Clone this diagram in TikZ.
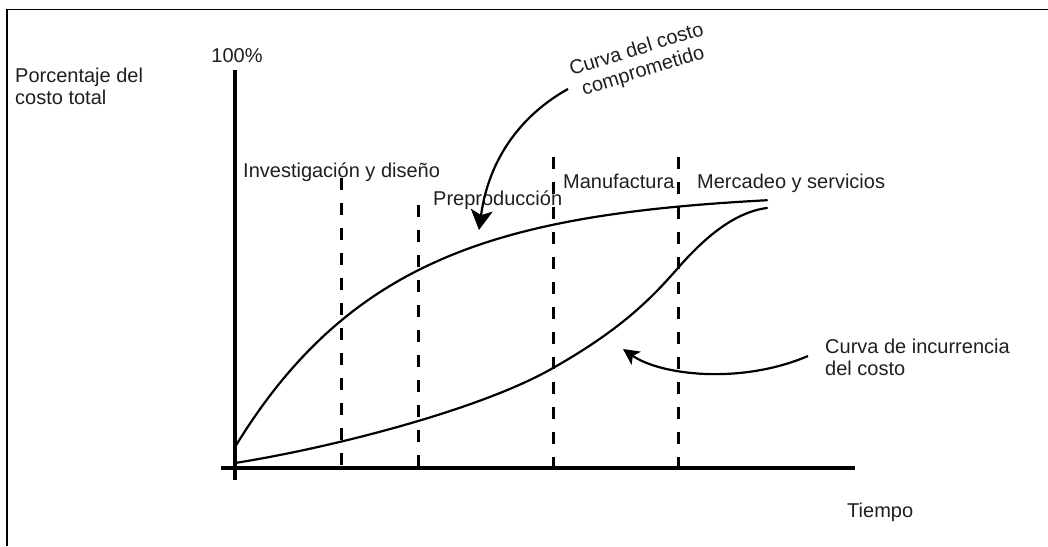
\documentclass[tikz,border=0pt]{standalone}
\usepackage{fontspec}
\setmainfont{Liberation Sans}
\usetikzlibrary{arrows.meta}
\begin{document}
\begin{tikzpicture}[x=1pt,y=-1pt,
  lbl/.style={inner sep=0pt, text=black!88, font=\fontsize{20pt}{22.5pt}\selectfont},
  axis/.style={line width=3.2pt},
  curve/.style={line width=2.2pt},
  phase/.style={line width=3pt, dash pattern=on 12pt off 13pt},
  frame/.style={line width=1.3pt},
  pointer/.style={line width=2.2pt},
  bighead/.style={-{Stealth[length=20pt,width=22pt,inset=5pt]}},
  smallhead/.style={-{Stealth[length=16pt,width=16pt,inset=4pt]}}]
\useasboundingbox (0,0) rectangle (1048,546);

% outer frame (top and left edges)
\draw[frame] (7,546) -- (7,9.3) -- (1048,9.3);

% axes
\coordinate (ytop) at (235,70);
\coordinate (ybot) at (235,480);
\coordinate (xleft) at (221,468);
\coordinate (xright) at (855,468);
\draw[axis] (ytop) -- (ybot);
\draw[axis] (xleft) -- (xright);

% phase boundaries
\coordinate (p1t) at (341,178); \coordinate (p1b) at (341,468);
\coordinate (p2t) at (418,205); \coordinate (p2b) at (418,468);
\coordinate (p3t) at (553,157); \coordinate (p3b) at (553,468);
\coordinate (p4t) at (678,157); \coordinate (p4b) at (678,468);
\draw[phase] (p1t) -- (p1b);
\draw[phase] (p2t) -- (p2b);
\draw[phase] (p3t) -- (p3b);
\draw[phase] (p4t) -- (p4b);

% committed cost curve: saturating growth
\draw[curve, line cap=round] plot[domain=235:767, samples=90, smooth]
  (\x, {447-255*(1-exp(-(\x-235)/155))});

% incurred cost curve: slow start, steep rise, levelling off
\draw[curve, line cap=round] (235,463) .. controls (330,448) and (480,410) .. (553,368)
  .. controls (620,330) and (650,300) .. (678,268)
  .. controls (705,237) and (735,212) .. (767,208);

% labels
\node[lbl, anchor=base] (pct) at (237,62) {100\%};
\node[lbl, anchor=north west, align=left] (ylab) at (15,67.5) {Porcentaje del\\costo total};
\node[lbl, anchor=base west] (tiempo) at (847,517) {Tiempo};
\node[lbl, anchor=base west] (ph1) at (243,177) {Investigación y diseño};
\node[lbl, anchor=base west] (ph2) at (433,205) {Preproducción};
\node[lbl, anchor=base west] (ph3) at (563,188) {Manufactura};
\node[lbl, anchor=base west] (ph4) at (697,188) {Mercadeo y servicios};
\node[lbl, align=center, rotate=17] (comlab) at (640,61) {Curva del costo\\comprometido};
\node[lbl, anchor=north west, align=left] (inclab) at (825,338.5) {Curva de incurrencia\\del costo};

% pointers from labels to curves
\coordinate (a1s) at (568,89);
\coordinate (a1e) at (479,230);
\draw[pointer, bighead] (a1s) .. controls (530,110) and (490,150) .. (a1e);
\coordinate (a2s) at (808,356);
\coordinate (a2e) at (623,349);
\draw[pointer, smallhead] (a2s) .. controls (740,385) and (660,375) .. (a2e);
\end{tikzpicture}
\end{document}
